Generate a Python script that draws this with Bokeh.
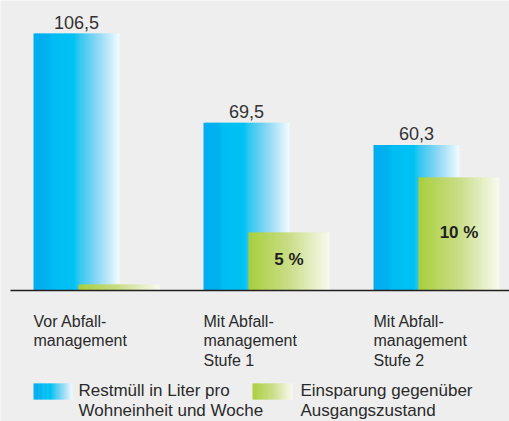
from bokeh.plotting import figure
from bokeh.models import Range1d
from bokeh.embed import file_html
from bokeh.resources import INLINE
from bokeh.core.properties import value

# ---- data ----
categories = ["Vor Abfall-\nmanagement",
              "Mit Abfall-\nmanagement\nStufe 1",
              "Mit Abfall-\nmanagement\nStufe 2"]
restmuell = [106.5, 69.5, 60.3]
restmuell_labels = ["106,5", "69,5", "60,3"]
einsparung = [2.5, 24.0, 46.8]
einsparung_labels = ["", "5 %", "10 %"]
legend_labels = ["Restmüll in Liter pro\nWohneinheit und Woche",
                 "Einsparung gegenüber\nAusgangszustand"]

# ---- layout ----
W, H = 509, 421
PX_PER_UNIT = 257 / 106.5
BASE_PX = 290
SLOT_PX = 170
X0_PX = 76

y_start = -(H - BASE_PX) / PX_PER_UNIT
y_end = BASE_PX / PX_PER_UNIT
x_start = -X0_PX / SLOT_PX
x_end = (W - X0_PX) / SLOT_PX


def xd(px):
    return x_start + px / SLOT_PX


def yd(py):
    return y_end - py / PX_PER_UNIT


BLUE_STOPS = [(0.0, "#00adef"), (0.19, "#00b2f0"), (0.21, "#00bdf3"), (0.47, "#00c2f3"),
              (0.52, "#2cc6f0"), (0.75, "#8fd8f5"), (1.0, "#f3fbff")]
GREEN_STOPS = [(0.0, "#a8ce38"), (0.08, "#aed148"), (0.5, "#c9dd86"), (1.0, "#f9faf0")]


def h2rgb(h):
    h = h.lstrip("#")
    return tuple(int(h[i:i + 2], 16) for i in (0, 2, 4))


def grad(stops, t):
    for (t0, c0), (t1, c1) in zip(stops[:-1], stops[1:]):
        if t <= t1:
            f = 0 if t1 == t0 else (t - t0) / (t1 - t0)
            a, b = h2rgb(c0), h2rgb(c1)
            return "#%02x%02x%02x" % tuple(int(round(a[k] + (b[k] - a[k]) * f)) for k in range(3))
    return stops[-1][1]


def strips(left, right, bottom, top, stops, n=48):
    w = (right - left) / n
    L, R, B, T, C = [], [], [], [], []
    for k in range(n):
        l = left + k * w
        r = min(right, l + 1.6 * w)
        L.append(l); R.append(r); B.append(bottom); T.append(top)
        C.append(grad(stops, (k + 0.5) / n))
    return L, R, B, T, C


p = figure(width=W, height=H, x_range=Range1d(x_start, x_end), y_range=Range1d(y_start, y_end),
           output_backend="svg", toolbar_location=None, min_border=0,
           x_axis_location=None, y_axis_location=None,
           background_fill_color="#eeeeee", border_fill_color="#eeeeee",
           outline_line_color=None, margin=(0, 0, 0, 0))
p.grid.visible = False

BW = 86 / SLOT_PX
GOFF = 45 / SLOT_PX
GW = 81 / SLOT_PX


def draw_bar(l, r, b, t, stops):
    L, R, B, T, C = strips(l, r, b, t, stops)
    p.quad(left=L, right=R, bottom=B, top=T, fill_color=C, line_color=None)


for i, v in enumerate(restmuell):
    bl = i - BW / 2
    draw_bar(bl, bl + BW, 0, v, BLUE_STOPS)
for i, v in enumerate(einsparung):
    gl = i - BW / 2 + GOFF
    draw_bar(gl, gl + GW, 0, v, GREEN_STOPS)

# baseline
p.segment(x0=[xd(10)], y0=[0], x1=[xd(509)], y1=[0], line_color="#231f20", line_width=1.6)

FONT = value("Liberation Sans")

# value labels
p.text(x=list(range(len(restmuell))), y=restmuell, text=restmuell_labels,
       text_align="center", text_baseline="bottom", y_offset=-5,
       text_font=FONT, text_font_size="18px", text_color="#333333")

# percent labels
p.text(x=[i - BW / 2 + GOFF + GW / 2 for i in range(len(einsparung))],
       y=[v / 2 for v in einsparung], text=einsparung_labels,
       text_align="center", text_baseline="middle", y_offset=-2,
       text_font=FONT, text_font_size="17px", text_font_style="bold", text_color="#231f20")

# category labels
p.text(x=[i - BW / 2 for i in range(len(categories))], y=[yd(312)] * len(categories),
       text=categories, text_align="left", text_baseline="top",
       text_font=FONT, text_font_size="16px", text_color="#2a2a2a", text_line_height=1.15)

# legend
draw_bar(xd(33), xd(72), yd(399), yd(383), BLUE_STOPS)
draw_bar(xd(252), xd(292), yd(399), yd(383), GREEN_STOPS)
p.text(x=[xd(78), xd(300)], y=[yd(380)] * 2, text=legend_labels,
       text_align="left", text_baseline="top",
       text_font=FONT, text_font_size="17px", text_color="#2a2a2a", text_line_height=1.1)

open("out.html", "w").write(file_html(p, INLINE))
